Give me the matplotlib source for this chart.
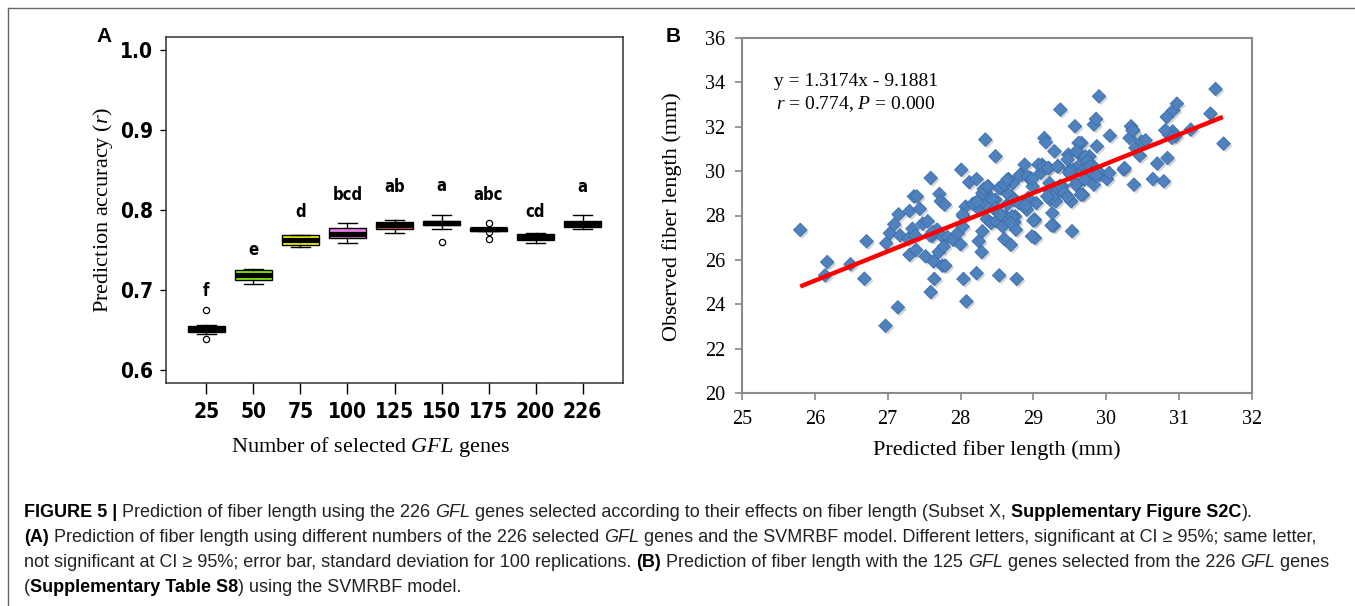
import matplotlib
matplotlib.use("Agg")
import matplotlib.pyplot as plt
import matplotlib.patheffects as pe
from matplotlib.lines import Line2D
import numpy as np

plt.rcParams['mathtext.fontset'] = 'custom'
plt.rcParams['mathtext.rm'] = 'Liberation Serif'
plt.rcParams['mathtext.it'] = 'Liberation Serif:italic'

SERIF = 'Liberation Serif'
NARROW = 'DejaVu Sans'
SANS = 'Liberation Sans'

# ---- panel A data (boxplots of prediction accuracy) ----
gene_nums = ['25', '50', '75', '100', '125', '150', '175', '200', '226']
q1 = [0.6479, 0.7126, 0.7558, 0.7645, 0.7765, 0.7807, 0.7742, 0.7620, 0.7791]
med = [0.6520, 0.7188, 0.7620, 0.7695, 0.7807, 0.7836, 0.7757, 0.7662, 0.7826]
q3 = [0.6554, 0.7250, 0.7682, 0.7778, 0.7853, 0.7860, 0.7772, 0.7703, 0.7860]
whis_lo = [0.6457, 0.7080, 0.7533, 0.7590, 0.7715, 0.7757, 0.7742, 0.7587, 0.7766]
whis_hi = [0.6562, 0.7258, 0.7690, 0.7840, 0.7873, 0.7932, 0.7772, 0.7707, 0.7935]
outliers = [[0.6748, 0.6386], [], [], [], [], [0.7603],
            [0.7832, 0.7728, 0.7635], [], []]
letters = ['f', 'e', 'd', 'bcd', 'ab', 'a', 'abc', 'cd', 'a']
letter_y = [0.699, 0.7495, 0.798, 0.8185, 0.8285, 0.830, 0.8185, 0.798, 0.829]
box_colors = ['#8B0000', '#7FFF00', '#FFFF00', '#EE82EE', '#FF6347',
              '#222222', '#222222', '#87CEEB', '#7A4A5A']

# ---- panel B data (observed vs predicted fiber length) ----
pred = [25.80, 26.14, 26.17, 26.49, 26.68, 26.71, 26.97, 26.98, 27.03, 27.09,
        27.14, 27.15, 27.17, 27.28, 27.30, 27.30, 27.34, 27.36, 27.38, 27.39,
        27.40, 27.44, 27.48, 27.52, 27.55, 27.59, 27.59, 27.61, 27.63, 27.64,
        27.68, 27.70, 27.71, 27.73, 27.74, 27.75, 27.77, 27.78, 27.79, 27.82,
        27.90, 27.96, 28.00, 28.01, 28.03, 28.04, 28.04, 28.07, 28.08, 28.12,
        28.20, 28.22, 28.22, 28.25, 28.26, 28.29, 28.30, 28.32, 28.34, 28.35,
        28.36, 28.38, 28.42, 28.45, 28.48, 28.48, 28.49, 28.53, 28.53, 28.55,
        28.58, 28.60, 28.62, 28.64, 28.66, 28.69, 28.70, 28.72, 28.74, 28.75,
        28.76, 28.77, 28.83, 28.85, 28.88, 28.91, 28.93, 28.96, 28.99, 29.02,
        29.02, 29.04, 29.10, 29.12, 29.15, 29.17, 29.21, 29.22, 29.23, 29.26,
        29.28, 29.29, 29.30, 29.31, 29.34, 29.37, 29.40, 29.45, 29.48, 29.51,
        29.52, 29.53, 29.55, 29.57, 29.59, 29.61, 29.64, 29.66, 29.68, 29.70,
        29.72, 29.77, 29.80, 29.83, 29.83, 29.86, 29.87, 29.90, 29.91, 30.01,
        30.04, 30.05, 30.24, 30.32, 30.34, 30.37, 30.38, 30.40, 30.46, 30.48,
        30.54, 30.64, 30.70, 30.79, 30.83, 30.84, 30.86, 30.91, 30.92, 30.95,
        30.97, 31.16, 31.43, 31.50, 31.61,
        28.81, 28.92, 28.98, 29.07, 29.14, 29.20, 29.33, 29.62, 29.59, 29.71,
        29.74, 29.77, 29.80, 29.89, 29.86, 29.50, 29.58, 29.65, 29.25, 29.00,
        28.98, 29.23, 29.29, 29.33, 29.37, 29.42, 29.47, 29.19, 28.66, 28.73,
        28.80, 28.89, 28.53, 28.60, 28.64, 28.44, 28.48, 28.55, 28.71, 28.69,
        29.49, 29.47, 28.17, 28.23, 28.30, 28.32, 28.37, 27.58, 27.62, 28.03,
        30.81, 30.90, 30.25, 30.36]
obs = [27.35, 25.30, 25.90, 25.80, 25.15, 26.84, 23.03, 26.75, 27.20, 27.60,
       23.86, 28.05, 27.10, 26.95, 28.20, 26.23, 27.40, 28.86, 27.10, 26.45,
       28.86, 28.30, 27.63, 26.16, 27.74, 29.69, 24.55, 27.08, 25.93, 25.14,
       27.36, 26.35, 28.97, 28.64, 27.08, 25.74, 26.60, 28.49, 25.74, 27.03,
       26.90, 27.20, 26.70, 30.06, 27.50, 25.14, 27.96, 28.40, 24.13, 29.50,
       28.56, 29.64, 25.40, 26.84, 28.26, 26.35, 27.29, 28.60, 31.42, 29.00,
       27.84, 29.31, 27.66, 28.33, 30.67, 28.71, 27.74, 25.30, 28.10, 29.24,
       27.50, 26.94, 27.96, 28.49, 29.64, 26.68, 28.86, 29.46, 27.70, 27.96,
       27.36, 25.14, 29.84, 28.56, 30.29, 28.26, 28.79, 29.69, 29.31, 26.99,
       27.81, 28.56, 29.92, 30.29, 31.49, 31.30, 30.14, 29.46, 28.71, 28.11,
       27.54, 30.89, 29.00, 28.64, 30.22, 32.77, 29.31, 28.94, 30.74, 29.84,
       28.64, 27.29, 30.07, 32.02, 29.39, 30.82, 30.29, 31.27, 28.94, 29.62,
       30.14, 30.67, 30.29, 32.10, 29.39, 32.35, 31.12, 33.37, 29.84, 29.64,
       29.92, 31.60, 30.07, 31.49, 32.02, 31.84, 29.39, 31.05, 30.70, 31.34,
       31.39, 29.64, 30.34, 29.54, 32.44, 30.59, 31.64, 31.79, 32.74, 31.57,
       33.04, 31.87, 32.59, 33.70, 31.24,
       29.81, 29.74, 29.64, 30.29, 30.19, 30.14, 30.21, 31.27, 30.89, 30.66,
       30.44, 30.21, 29.92, 29.99, 29.79, 30.06, 29.39, 28.94, 27.55, 27.77,
       27.06, 29.09, 28.94, 29.24, 29.34, 29.01, 28.83, 28.86, 28.94, 28.71,
       28.56, 28.44, 29.24, 29.39, 29.61, 28.71, 28.34, 28.04, 27.96, 27.66,
       29.94, 30.52, 28.53, 28.64, 29.01, 29.19, 29.31, 27.10, 27.25, 28.04,
       31.84, 31.50, 30.14, 31.84]
slope, intercept = 1.3174, -9.1881
fit_range = [25.8, 31.6]

fig = plt.figure(figsize=(13.55, 6.06), dpi=100)
W, H = 1355.0, 606.0


def px_axes(l, t, r, b):
    return fig.add_axes([l / W, 1 - b / H, (r - l) / W, (b - t) / H])


# ================= Panel A =================
axA = px_axes(166, 37, 623, 383)
stats = []
for i in range(len(gene_nums)):
    stats.append(dict(med=med[i], q1=q1[i], q3=q3[i], whislo=whis_lo[i],
                      whishi=whis_hi[i], fliers=outliers[i], label=gene_nums[i]))
pos = np.arange(1, len(gene_nums) + 1)
bp = axA.bxp(stats, positions=pos, widths=0.8, patch_artist=True,
             showfliers=True,
             boxprops=dict(edgecolor='black', linewidth=1.0),
             medianprops=dict(color='black', linewidth=3.8, solid_capstyle='butt'),
             whiskerprops=dict(color='black', linewidth=1.0),
             capprops=dict(color='black', linewidth=1.0),
             flierprops=dict(marker='o', markersize=4.5, markerfacecolor='none',
                             markeredgecolor='black', markeredgewidth=0.9))
for cap in bp['caps']:
    x = cap.get_xdata()
    c = (x[0] + x[1]) / 2
    cap.set_xdata([c - 0.2, c + 0.2])
for patch, col in zip(bp['boxes'], box_colors):
    patch.set_facecolor(col)
for p, lt, ly in zip(pos, letters, letter_y):
    axA.text(p, ly, lt, ha='center', va='center', fontsize=12,
             fontweight='bold', family=NARROW, fontstretch='condensed')
axA.set_xlim(0.14, 9.86)
axA.set_ylim(0.584, 1.016)
axA.set_yticks([0.6, 0.7, 0.8, 0.9, 1.0])
axA.set_yticklabels(['0.6', '0.7', '0.8', '0.9', '1.0'])
axA.set_xticks(pos)
axA.set_xticklabels(gene_nums)
for lab in axA.get_xticklabels() + axA.get_yticklabels():
    lab.set_family(NARROW)
    lab.set_fontstretch('condensed')
    lab.set_fontweight('bold')
    lab.set_fontsize(15)
axA.tick_params(axis='x', direction='out', length=8, width=1, pad=6)
axA.tick_params(axis='y', direction='out', length=4.5, width=1, pad=5)
for s in axA.spines.values():
    s.set_linewidth(1.1)
    s.set_color('#333333')
fig.text(103 / W, 1 - 210 / H, 'Prediction accuracy ($r$)', rotation=90,
         ha='center', va='center', fontsize=16, family=SERIF)
fig.text(371 / W, 1 - 447 / H, 'Number of selected $GFL$ genes',
         ha='center', va='center', fontsize=16, family=SERIF)
fig.text(104 / W, 1 - 37 / H, 'A', ha='center', va='center', fontsize=15,
         fontweight='bold', family=SANS)

# ================= Panel B =================
axB = px_axes(742, 38, 1252, 393)
sc = axB.scatter(pred, obs, marker='D', s=48, color='#4F81BD',
                 edgecolors='#3C6EAD', linewidths=0.6, zorder=3)
sc.set_path_effects([pe.SimplePatchShadow(offset=(1.5, -1.5), alpha=0.25,
                                          shadow_rgbFace='#555555'),
                     pe.Normal()])
fx = np.array(fit_range)
axB.plot(fx, slope * fx + intercept, color='#FF0000', lw=3.2, zorder=4,
         solid_capstyle='butt')
axB.set_xlim(25, 32)
axB.set_ylim(20, 36)
axB.set_xticks(range(25, 33))
axB.set_yticks(range(20, 37, 2))
for lab in axB.get_xticklabels() + axB.get_yticklabels():
    lab.set_family(SERIF)
    lab.set_fontsize(14.5)
axB.tick_params(direction='out', length=5, width=1.2, color='#888888', pad=7)
for s in axB.spines.values():
    s.set_linewidth(1.5)
    s.set_color('#8a8a8a')
axB.text(25.44, 34.05, 'y = 1.3174x - 9.1881', fontsize=14, family=SERIF,
         va='center', ha='left')
axB.text(25.47, 33.03, '$r$ = 0.774, $P$ = 0.000', fontsize=14, family=SERIF,
         va='center', ha='left')
fig.text(672 / W, 1 - 217 / H, 'Observed fiber length (mm)', rotation=90,
         ha='center', va='center', fontsize=16, family=SERIF)
fig.text(997 / W, 1 - 450 / H, 'Predicted fiber length (mm)',
         ha='center', va='center', fontsize=16, family=SERIF)
fig.text(673 / W, 1 - 37 / H, 'B', ha='center', va='center', fontsize=15,
         fontweight='bold', family=SANS)

# ================= border + caption =================
fig.add_artist(Line2D([8 / W, 1], [1 - 8 / H, 1 - 8 / H], color='#666666', lw=1))
fig.add_artist(Line2D([8 / W, 8 / W], [0, 1 - 8 / H], color='#666666', lw=1))

caption = [
    [('FIGURE 5 | ', 'b'), ('Prediction of fiber length using the 226 ', 'n'), ('GFL', 'i'),
     (' genes selected according to their effects on fiber length (Subset X, ', 'n'),
     ('Supplementary Figure S2C', 'b'), (').', 'n')],
    [('(A)', 'b'), (' Prediction of fiber length using different numbers of the 226 selected ', 'n'),
     ('GFL', 'i'), (' genes and the SVMRBF model. Different letters, significant at CI \u2265 95%; same letter,', 'n')],
    [('not significant at CI \u2265 95%; error bar, standard deviation for 100 replications. ', 'n'),
     ('(B)', 'b'), (' Prediction of fiber length with the 125 ', 'n'), ('GFL', 'i'),
     (' genes selected from the 226 ', 'n'), ('GFL', 'i'), (' genes', 'n')],
    [('(', 'n'), ('Supplementary Table S8', 'b'), (') using the SVMRBF model.', 'n')],
]
cap_size = 13.0
renderer = fig.canvas.get_renderer()


def run_props(style):
    return dict(fontsize=cap_size, family=SANS,
                fontweight='bold' if style == 'b' else 'normal',
                fontstyle='italic' if style == 'i' else 'normal')


def run_width(s, style):
    t1 = fig.text(0, 0, 'x' + s + 'x', **run_props(style))
    t2 = fig.text(0, 0, 'xx', **run_props(style))
    w = t1.get_window_extent(renderer).width - t2.get_window_extent(renderer).width
    t1.remove()
    t2.remove()
    return w


baselines = [517, 542, 567, 592]
for line, yb in zip(caption, baselines):
    x = 24.0
    for s, style in line:
        fig.text(x / W, 1 - yb / H, s, ha='left', va='baseline',
                 color='#222222' if style != 'b' else 'black', **run_props(style))
        x += run_width(s, style)

fig.savefig('out.png', dpi=100)
